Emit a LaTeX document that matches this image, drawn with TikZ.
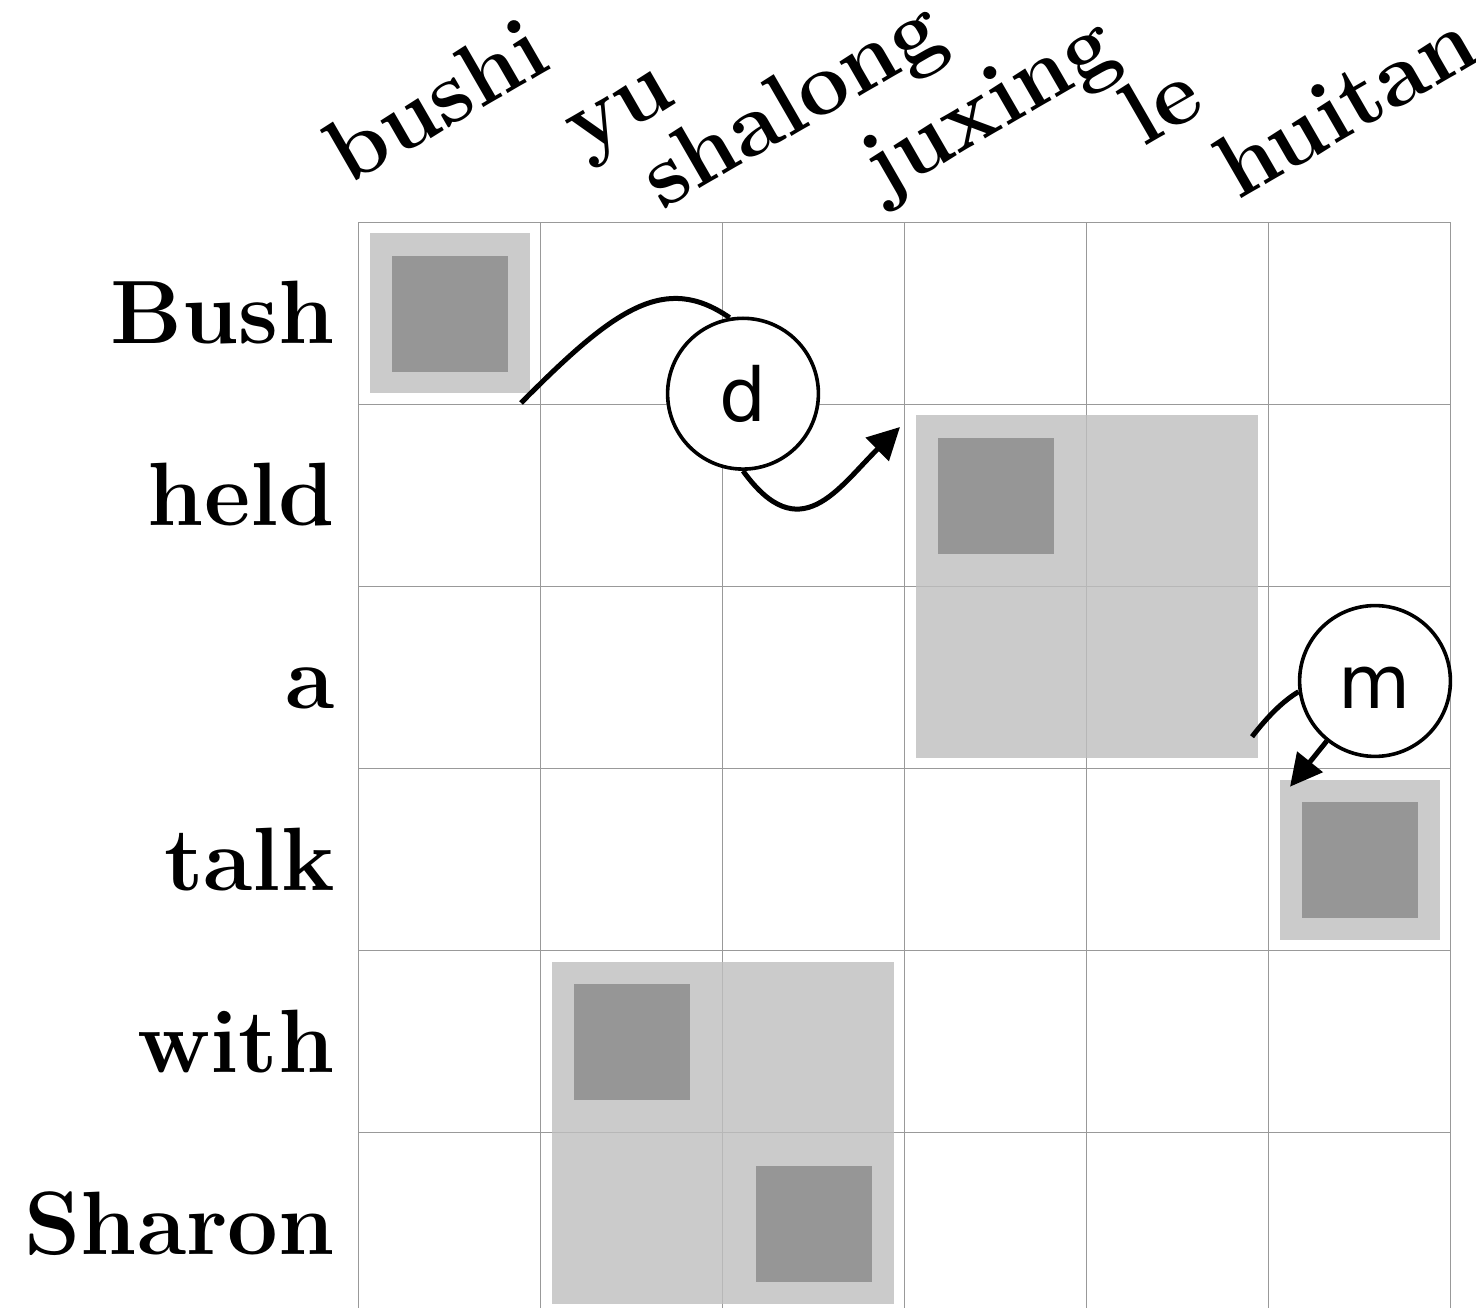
\documentclass[tikz,border=0pt]{standalone}
\usepackage{fontspec}
\newfontfamily\circfont{DejaVu Sans}
\usetikzlibrary{arrows.meta}
\begin{document}
\begin{tikzpicture}[x=0.5pt,y=0.5pt,
  gridline/.style={draw=black!40, line width=0.75pt},
  lightbox/.style={fill=black!25, fill opacity=0.81},
  darkbox/.style={fill=black!41},
  rowlab/.style={anchor=base east, inner sep=0pt, font=\fontsize{45}{50}\selectfont\bfseries},
  collab/.style={anchor=base west, inner sep=0pt, rotate=30, font=\fontsize{45}{50}\selectfont\bfseries},
  opnode/.style={circle, draw, line width=1.8pt, minimum size=75.4pt, inner sep=0pt, fill=white, font=\circfont\fontsize{37}{40}\selectfont},
  conn/.style={line width=2.5pt},
  arrowhd/.style={-{Triangle[length=16pt,width=16pt]}}
]
\useasboundingbox (0,0) rectangle (1476,1308);
% grid
\foreach \i in {0,...,6} {
  \draw[gridline] ({358.5+182*\i},1085.5) -- ({358.5+182*\i},0);
}
\foreach \i in {0,...,5} {
  \draw[gridline] (358.5,{1085.5-182*\i}) -- (1450.5,{1085.5-182*\i});
}
% light boxes
\fill[lightbox] (369.5,1074.5) rectangle (529.5,914.5);
\fill[lightbox] (915.5,892.5) rectangle (1257.5,550.5);
\fill[lightbox] (1279.5,528.5) rectangle (1439.5,368.5);
\fill[lightbox] (551.5,346.5) rectangle (893.5,4.5);
% dark boxes
\fill[darkbox] (392,1052) rectangle (508,936);
\fill[darkbox] (938,870) rectangle (1054,754);
\fill[darkbox] (1302,506) rectangle (1418,390);
\fill[darkbox] (574,324) rectangle (690,208);
\fill[darkbox] (756,142) rectangle (872,26);
% row labels
\node[rowlab] (rBush) at (335,964) {Bush};
\node[rowlab] (rheld) at (335,782) {held};
\node[rowlab] (ra) at (335,600) {a};
\node[rowlab] (rtalk) at (335,418) {talk};
\node[rowlab] (rwith) at (335,236) {with};
\node[rowlab] (rSharon) at (335,54) {Sharon};
% column labels
\node[collab] (cbushi) at (348,1122) {bushi};
\node[collab] (cyu) at (583,1151) {yu};
\node[collab] (cshalong) at (662,1097) {shalong};
\node[collab] (cjuxing) at (883,1110) {juxing};
\node[collab] (cle) at (1143,1160) {le};
\node[collab] (chuitan) at (1238,1107) {huitan};
% operator circles
\node[opnode] (d) at (743,914.3) {\vphantom{d}d};
\node[opnode] (m) at (1375,627) {\vphantom{d}m};
% connectors
\coordinate (dstart) at (521,905);
\coordinate (dend) at (900,881);
\coordinate (mstart) at (1252,571.3);
\coordinate (mend) at (1290,521.3);
\draw[conn] (dstart) .. controls (615,1000) and (665,1035) .. (d.100);
\draw[conn, arrowhd] (d.270) .. controls (800,758) and (838,820) .. (dend);
\draw[conn] (mstart) .. controls (1268,592) and (1283,607) .. (m.188);
\draw[conn, arrowhd] (m) -- (mend);
\end{tikzpicture}
\end{document}
